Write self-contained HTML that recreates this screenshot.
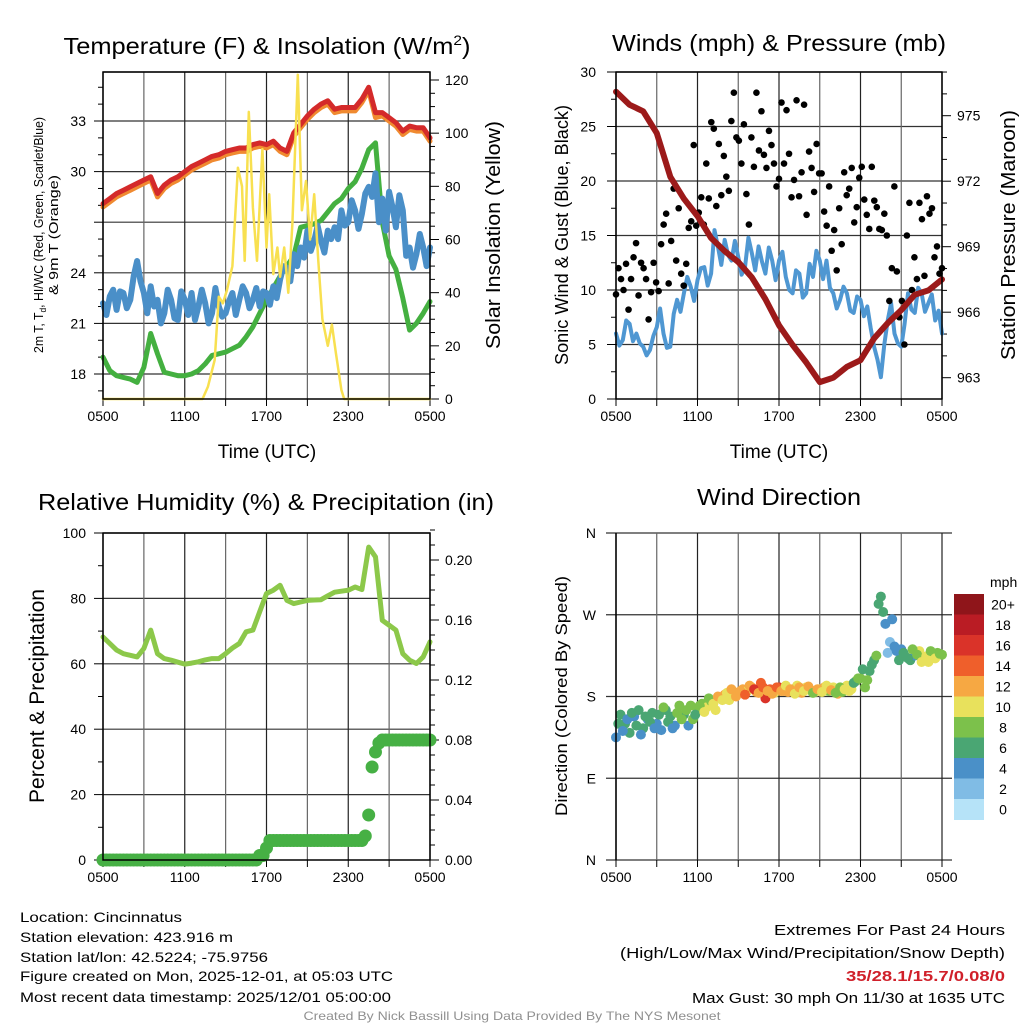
<!DOCTYPE html>
<html><head><meta charset="utf-8"><style>
html,body{margin:0;padding:0;background:#fff;}
svg{display:block;font-family:"Liberation Sans",Arial,sans-serif;}
</style></head><body>
<svg id="fig" width="1024" height="1024" viewBox="0 0 1024 1024" xmlns="http://www.w3.org/2000/svg">
<rect width="1024" height="1024" fill="#fff"/>
<g id="g1"></g>
<g id="g2"></g>
<g id="g3"></g>
<g id="g4"></g>
<text x="267" y="54" font-size="23" text-anchor="middle" textLength="407" lengthAdjust="spacingAndGlyphs">Temperature (F) &amp; Insolation (W/m<tspan font-size="14" dy="-9">2</tspan><tspan dy="9">)</tspan></text>
<text x="779" y="51" font-size="23" text-anchor="middle" textLength="334" lengthAdjust="spacingAndGlyphs">Winds (mph) &amp; Pressure (mb)</text>
<text x="266" y="510" font-size="23" text-anchor="middle" textLength="456" lengthAdjust="spacingAndGlyphs">Relative Humidity (%) &amp; Precipitation (in)</text>
<text x="779" y="505" font-size="23" text-anchor="middle" textLength="164" lengthAdjust="spacingAndGlyphs">Wind Direction</text>
<text transform="translate(43,235) rotate(-90)" font-size="13" text-anchor="middle" textLength="236" lengthAdjust="spacingAndGlyphs">2m T, T<tspan font-size="9" dy="3">d</tspan><tspan dy="-3">, HI/WC (Red, Green, Scarlet/Blue)</tspan></text>
<text transform="translate(58,235) rotate(-90)" font-size="13" text-anchor="middle" textLength="120" lengthAdjust="spacingAndGlyphs">&amp; 9m T (Orange)</text>
<text transform="translate(500,235) rotate(-90)" font-size="20" text-anchor="middle" textLength="228" lengthAdjust="spacingAndGlyphs">Solar Insolation (Yellow)</text>
<text transform="translate(568,235) rotate(-90)" font-size="18" text-anchor="middle" textLength="260" lengthAdjust="spacingAndGlyphs">Sonic Wind &amp; Gust (Blue, Black)</text>
<text transform="translate(1015,235) rotate(-90)" font-size="20" text-anchor="middle" textLength="250" lengthAdjust="spacingAndGlyphs">Station Pressure (Maroon)</text>
<text transform="translate(44,696) rotate(-90)" font-size="21" text-anchor="middle" textLength="214" lengthAdjust="spacingAndGlyphs">Percent &amp; Precipitation</text>
<text transform="translate(567,696) rotate(-90)" font-size="17" text-anchor="middle" textLength="240" lengthAdjust="spacingAndGlyphs">Direction (Colored By Speed)</text>
<text x="267" y="458" font-size="19" text-anchor="middle">Time (UTC)</text>
<text x="779" y="458" font-size="19" text-anchor="middle">Time (UTC)</text>
<g font-size="14">
<text x="20" y="922" textLength="162" lengthAdjust="spacingAndGlyphs">Location: Cincinnatus</text>
<text x="20" y="942" textLength="213" lengthAdjust="spacingAndGlyphs">Station elevation: 423.916 m</text>
<text x="20" y="962" textLength="248" lengthAdjust="spacingAndGlyphs">Station lat/lon: 42.5224; -75.9756</text>
<text x="20" y="981" textLength="373" lengthAdjust="spacingAndGlyphs">Figure created on Mon, 2025-12-01, at 05:03 UTC</text>
<text x="20" y="1002" textLength="371" lengthAdjust="spacingAndGlyphs">Most recent data timestamp: 2025/12/01 05:00:00</text>
</g>
<g font-size="15" text-anchor="end">
<text x="1005" y="935" textLength="231" lengthAdjust="spacingAndGlyphs">Extremes For Past 24 Hours</text>
<text x="1005" y="958" textLength="385" lengthAdjust="spacingAndGlyphs">(High/Low/Max Wind/Precipitation/Snow Depth)</text>
<text x="1005" y="981" fill="#d0202a" font-weight="bold" textLength="159" lengthAdjust="spacingAndGlyphs">35/28.1/15.7/0.08/0</text>
<text x="1005" y="1003" textLength="313" lengthAdjust="spacingAndGlyphs">Max Gust: 30 mph On 11/30 at 1635 UTC</text>
</g>
<text x="512" y="1020" font-size="12" fill="#909090" text-anchor="middle" textLength="417" lengthAdjust="spacingAndGlyphs">Created By Nick Bassill Using Data Provided By The NYS Mesonet</text>
</svg>
<script>
// ---------- data ----------
const xTickLabels = ["0500","1100","1700","2300","0500"];
const tempRed = [28.1,28.4,28.7,28.9,29.1,29.3,29.5,29.7,28.7,29.2,29.5,29.7,30.0,30.3,30.5,30.7,30.9,31.0,31.2,31.3,31.4,31.4,31.6,31.7,31.6,31.8,31.4,31.2,32.3,32.8,33.3,33.7,34.0,34.2,33.7,33.8,33.8,33.8,34.3,35.0,33.5,33.5,33.2,32.9,32.4,32.7,32.6,32.6,32.0];
const tempOrange = [27.9,28.2,28.5,28.7,28.9,29.1,29.3,29.5,28.5,29.0,29.3,29.5,29.8,30.1,30.3,30.5,30.7,30.8,31.0,31.1,31.2,31.2,31.4,31.5,31.4,31.6,31.2,31.0,32.1,32.6,33.1,33.5,33.8,34.0,33.5,33.6,33.6,33.6,34.1,34.8,33.2,33.3,33.0,32.7,32.2,32.5,32.4,32.4,31.8];
const tempDew = [19.0,18.2,17.9,17.8,17.7,17.5,18.4,20.4,19.2,18.1,18.0,17.9,17.9,18.0,18.2,18.6,19.1,19.2,19.3,19.5,19.7,20.2,20.8,21.6,22.4,23.1,23.8,24.4,25.0,26.7,26.8,26.9,27.1,27.6,28.1,28.4,29.0,29.4,30.2,31.3,31.7,27.0,25.0,24.2,22.5,20.6,21.0,21.6,22.3];
const tempWC = [22.2,21.5,22.6,23.0,21.8,22.9,22.8,21.9,22.4,23.8,24.7,23.5,22.8,21.6,23.2,22.0,22.4,21.0,21.6,23.0,22.4,21.3,21.2,22.9,22.4,21.5,22.8,21.2,22.0,23.0,22.2,21.0,21.6,23.1,22.0,21.4,21.6,22.3,22.8,21.5,22.4,23.2,22.8,21.9,22.4,23.1,22.0,22.9,22.8,22.1,23.2,22.5,23.6,24.4,24.3,23.5,25.1,24.4,25.5,24.9,26.5,25.3,25.9,26.8,25.9,25.2,26.5,26.0,26.7,26.0,27.7,26.8,27.0,28.3,27.7,26.6,27.5,28.7,29.1,28.5,29.9,27.0,28.4,26.5,28.8,27.9,26.7,28.6,27.7,25.0,25.5,24.3,25.1,26.3,25.5,24.4,25.5];
const solarHours = [0,7.3,7.7,8.2,8.5,8.8,9.1,9.5,9.9,10.2,10.4,10.7,11.0,11.3,11.7,12.0,12.2,12.5,12.8,13.0,13.3,13.6,13.9,14.3,14.6,14.9,15.2,15.5,15.8,16.1,16.5,16.8,17.1,17.5,17.7,24];
const solarValues = [0,0,4.6,14.7,38.5,36,41,50,87,80,52,108,72,52,94,57,77,47,57,46,57,40,66,122,71,82,60,77,52,30,20,28,17,3.4,0,0];
const windSpeed = [6.0,4.9,5.4,7.2,6.9,5.3,6.0,5.1,4.8,4.0,4.5,5.8,6.6,8.3,6.0,4.7,4.8,7.8,9.1,8.0,9.7,11.2,10.3,9.0,10.9,12.0,12.1,10.4,11.5,15.5,14.0,12.3,14.6,13.2,12.7,14.5,13.0,11.4,12.1,14.8,13.4,11.8,14.0,12.6,11.5,13.9,12.7,10.9,12.7,13.5,11.2,10.0,9.7,11.8,11.5,9.3,9.7,12.4,11.2,13.6,12.7,11.0,12.7,10.2,9.7,8.3,9.1,10.3,9.7,8.1,7.9,9.4,9.1,7.6,8.5,6.5,4.8,3.6,2.0,5.0,7.2,8.8,6.0,5.1,4.8,6.9,9.7,8.2,7.9,10.2,9.7,8.0,8.8,9.6,7.2,8.1,6.0];
const gustValues = [9.6,12,11,10,12.4,8.2,11,13,14.3,9.5,12.5,12,11,7.3,9.8,12.5,10.7,9.9,14.2,16,17,10.6,14.5,19.3,12.7,17.5,11.5,10.4,12.4,15.7,16.3,23.3,15.9,17.1,18.5,16,21.6,18.4,25.4,24.8,17.7,23.4,18.7,22.3,20.4,19.1,25.5,28.1,24,23.7,21.6,25.2,18.8,16,24,21.3,28.1,22.8,26.4,22.4,21.2,24.6,23.3,21.6,19.5,20.2,27.2,21.6,26.5,22.5,18.5,20.1,27.4,18.6,20.8,27,16.9,22.7,21.2,19,23.4,20.7,20.7,17.2,15.9,19.5,13.6,15.5,11.8,17.5,14.2,20.8,18.7,19.3,21.2,16.2,17.6,20.3,21.3,18.3,16.9,15.6,21.3,18.2,17.6,15.6,15.5,17,15,9,12,19.5,11.7,7.5,9,5,15,18,10,13,11,18,16.5,11.3,18.6,17,17.5,13,14,11.5,12];
const pressure = [976.1,975.5,975.2,974.2,972.2,971.2,970.4,969.4,968.8,968.3,967.6,966.6,965.4,964.5,963.7,962.8,963.0,963.5,963.8,964.8,965.5,966.1,966.8,967.0,967.5];
const humidity = [68.2,66.2,64.2,63.1,62.6,62.1,64.7,70.3,63.1,61.6,61.1,60.5,59.9,60.2,60.6,61.2,61.6,61.6,63.1,64.8,66.2,69.8,70.3,75.9,81.5,82.5,84.0,79.4,78.4,78.9,79.4,79.5,79.6,80.8,81.9,82.2,82.5,83.5,82.7,95.7,92.7,73.3,71.8,70.3,63.1,61.1,60.1,62.1,66.7];
const precip = [0,0,0,0,0,0,0,0,0,0,0,0,0,0,0,0,0,0,0,0,0,0,0,0,0,0,0,0,0,0,0,0,0,0,0,0,0,0,0,0,0,0,0,0,0,0,0.003,0.003,0.008,0.013,0.013,0.013,0.013,0.013,0.013,0.013,0.013,0.013,0.013,0.013,0.013,0.013,0.013,0.013,0.013,0.013,0.013,0.013,0.013,0.013,0.013,0.013,0.013,0.013,0.013,0.013,0.013,0.016,0.03,0.062,0.072,0.078,0.08,0.08,0.08,0.08,0.08,0.08,0.08,0.08,0.08,0.08,0.08,0.08,0.08,0.08,0.08];
const windDir = [135,160,150,140,158,165,145,155,162,150,143,165,158,148,170,160,148,155,165,172,168,175,165,178,182,176,185,183,188,186,190,185,195,178,188,184,190,186,185,188,192,184,190,187,185,188,190,186,190,183,185,192,188,197,200,190,208,220,282,273,228,265,230,232,224,220,225,230,222,218,225,228,226];
const windDirSpeed = [5,6,7,6,5,7,6,4,6,5,4,7,6,5,8,7,4,9,8,9,10,9,11,10,12,11,12,13,12,11,13,12,15,17,14,11,16,12,13,14,11,12,10,13,11,10,12,9,11,13,8,10,11,8,8,9,6,7,6,7,3,5,4,5,8,7,5,10,9,11,10,8,9];
const windDirB = [150,142,155,162,148,138,158,152,145,160,168,152,145,162,155,165,170,160,170,163,178,172,180,176,184,188,180,186,182,192,188,184,190,186,183,190,186,192,188,183,190,186,191,184,188,185,192,187,184,190,188,186,195,200,210,198,215,225,290,260,240,235,220,228,222,232,226,218,224,230,222,227];
const windDirSpeedB = [6,5,4,7,6,5,7,6,4,7,8,6,5,8,9,8,9,7,9,10,8,11,12,10,11,13,12,12,14,13,16,12,15,13,12,14,13,11,12,10,13,11,12,9,12,11,10,12,9,8,11,10,7,9,7,8,6,9,7,5,2,4,6,7,6,8,9,10,11,8,10,9];
const speedBinLabels = ["0","2","4","6","8","10","12","14","16","18","20+"];
const speedBinColors = ["#b6e3f8","#80bce5","#4a90c8","#4aa673","#7cc14b","#e8e15c","#f6a843","#ef5f2b","#da3329","#ba1c24","#8f151a"];

// ---------- helpers ----------
const NS="http://www.w3.org/2000/svg";
function mk(parent,tag,attrs){const e=document.createElementNS(NS,tag);for(const k in attrs)e.setAttribute(k,attrs[k]);parent.appendChild(e);return e;}
function lin(d0,d1,r0,r1){return v=>r0+(v-d0)*(r1-r0)/(d1-d0);}
function idxHours(arr){return arr.map((_,i)=>i*24/(arr.length-1));}

function frame(g,L,R,T,B,xs){
  for(let h=0;h<=24;h+=3){
    const x=xs(h);
    const gl=mk(g,'line',{x1:x,x2:x,y1:T,y2:B,stroke:(h%6===0)?'#222':'#666','stroke-width':1.2});
    
    
    const tk=mk(g,'line',{x1:x,x2:x,y1:B,y2:B+7,stroke:'#000','stroke-width':1});
    
    
  }
  xTickLabels.forEach((lab,i)=>{
    const t=mk(g,'text',{x:xs(i*6),y:B+22,'font-size':14,'text-anchor':'middle'});
    t.textContent=lab;
    
    
  });
}
function hgrid(g,L,R,y,color){
  const l=mk(g,'line',{x1:L,x2:R,y1:y,y2:y,stroke:color||'#333','stroke-width':1.2});
  
  
}
function yTick(g,x,y,dir,len){
  const l=mk(g,'line',{x1:x,x2:x+dir*len,y1:y,y2:y,stroke:'#000','stroke-width':1});
  
  
}
function yLabel(g,x,y,txt,anchor){
  const t=mk(g,'text',{x:x,y:y+5,'font-size':14,'text-anchor':anchor});
  t.textContent=txt;
  
  
}
function poly(g,xs,ys,hours,vals,color,w,name){
  const pts=vals.map((v,i)=>xs(hours[i]).toFixed(1)+','+ys(v).toFixed(1)).join(' ');
  const p=mk(g,'polyline',{points:pts,fill:'none',stroke:color,'stroke-width':w,'stroke-linejoin':'round','stroke-linecap':'round'});
  
  
  return p;
}
function border(g,L,R,T,B){
  const r=mk(g,'rect',{x:L,y:T,width:R-L,height:B-T,fill:'none',stroke:'#000','stroke-width':1.5});
  
  
}

// ---------- panel 1 ----------
(function(){
  const g=document.getElementById('g1');
  const L=103,R=430,T=72,B=399;
  const xs=lin(0,24,L,R), ys=lin(18,33,374,121), ysR=lin(0,120,399,80);
  [18,21,24,27,30,33].forEach(v=>hgrid(g,L,R,ys(v)));
  hgrid(g,L,R,T);
  frame(g,L,R,T,B,xs);
  for(let v=17;v<=35;v++){const y=ys(v);if(y>=T&&y<=B)yTick(g,L,y,-1,v%3===0?9:5);}
  [18,21,24,30,33].forEach(v=>yLabel(g,86,ys(v),String(v),'end'));
  for(let v=0;v<=120;v+=5){yTick(g,R,ysR(v),1,v%20===0?9:5);}
  for(let v=0;v<=120;v+=20)yLabel(g,445,ysR(v),String(v),'start');
  poly(g,xs,ys,idxHours(tempOrange),tempOrange,'#f08a30',5,'nine-meter-temp-line');
  poly(g,xs,ys,idxHours(tempRed),tempRed,'#d42a2a',5,'two-meter-temp-line');
  poly(g,xs,ys,idxHours(tempDew),tempDew,'#44b040',5,'dewpoint-line');
  poly(g,xs,ys,idxHours(tempWC),tempWC,'#4a8fc8',6,'wind-chill-line');
  poly(g,xs,ysR,solarHours,solarValues,'#f8e050',2.5,'solar-insolation-line');
  border(g,L,R,T,B);
})();

// ---------- panel 2 ----------
(function(){
  const g=document.getElementById('g2');
  const L=616,R=942,T=72,B=399;
  const xs=lin(0,24,L,R), ys=lin(0,30,399,72), ysR=lin(963,975,377.7,115.7);
  [5,10,15,20,25,30].forEach(v=>hgrid(g,L,R,ys(v)));
  frame(g,L,R,T,B,xs);
  for(let v=0;v<=30;v+=2.5)yTick(g,L,ys(v),-1,v%5===0?9:5);
  for(let v=0;v<=30;v+=5)yLabel(g,596,ys(v),String(v),'end');
  for(let v=962;v<=977;v++){const y=ysR(v);if(y>=T&&y<=B)yTick(g,R,y,1,v%3===0?9:5);}
  for(let v=963;v<=975;v+=3)yLabel(g,957,ysR(v),String(v),'start');
  poly(g,xs,ys,idxHours(windSpeed),windSpeed,'#4f97d2',4,'sonic-wind-line');
  const gh=idxHours(gustValues);
  gustValues.forEach((v,i)=>{
    const c=mk(g,'circle',{cx:xs(gh[i]),cy:ys(v),r:3.3,fill:'#000'});
    
    
  });
  poly(g,xs,ysR,idxHours(pressure),pressure,'#9c1a1a',6,'pressure-line');
  border(g,L,R,T,B);
})();

// ---------- panel 3 ----------
(function(){
  const g=document.getElementById('g3');
  const L=103,R=430,T=533,B=860;
  const xs=lin(0,24,L,R), ys=lin(0,100,860,533), ysR=lin(0,0.2,860,560);
  [20,40,60,80,100].forEach(v=>hgrid(g,L,R,ys(v)));
  frame(g,L,R,T,B,xs);
  for(let v=0;v<=100;v+=10)yTick(g,L,ys(v),-1,v%20===0?9:5);
  for(let v=0;v<=100;v+=20)yLabel(g,86,ys(v),String(v),'end');
  for(let v=0;v<=0.22001;v+=0.01)yTick(g,R,ysR(v),1,Math.round(v*100)%4===0?9:5);
  for(let k=0;k<=5;k++)yLabel(g,445,ysR(k*0.04),(k*0.04).toFixed(2),'start');
  poly(g,xs,ys,idxHours(humidity),humidity,'#8cc84a',5,'relative-humidity-line');
  const ph=idxHours(precip);
  precip.forEach((v,i)=>{
    const c=mk(g,'circle',{cx:xs(ph[i]),cy:ysR(v),r:6.5,fill:'#46b044'});
    
    
  });
  border(g,L,R,T,B);
})();

// ---------- panel 4 ----------
(function(){
  const g=document.getElementById('g4');
  const L=616,R=942,T=533,B=860;
  const xs=lin(0,24,L,R), ys=lin(0,360,860,533);
  [0,90,180,270,360].forEach(v=>hgrid(g,L-10,R+10,ys(v)));
  frame(g,L,R,T,B,xs);
  ["N","E","S","W","N"].forEach((lab,i)=>{
    const t=mk(g,'text',{x:596,y:ys(i*90)+5,'font-size':14,'text-anchor':'end'});
    t.textContent=lab;
    
    
  });
  const dh=idxHours(windDir);
  windDir.forEach((v,i)=>{
    const b=Math.min(10,Math.floor(windDirSpeed[i]/2));
    const c=mk(g,'circle',{cx:xs(dh[i]),cy:ys(v),r:5,fill:speedBinColors[b]});
    
    
  });
  windDirB.forEach((v,i)=>{
    const b=Math.min(10,Math.floor(windDirSpeedB[i]/2));
    const c=mk(g,'circle',{cx:xs((i+0.5)*24/windDirB.length),cy:ys(v),r:5,fill:speedBinColors[b]});
    
    
  });
  const lx=954,top=594,bh=20.5;
  const u=mk(g,'text',{x:990,y:587,'font-size':14});
  u.textContent='mph';
  
  
  for(let i=10;i>=0;i--){
    const y=top+(10-i)*bh;
    const r=mk(g,'rect',{x:lx,y:y,width:30,height:bh+0.5,fill:speedBinColors[i]});
    
    
    const t=mk(g,'text',{x:1003,y:y+bh/2+5,'font-size':14,'text-anchor':'middle'});
    t.textContent=speedBinLabels[i];
    
    
  }
  const bl=mk(g,'line',{x1:L,x2:L,y1:T,y2:B,stroke:'#000','stroke-width':1.5});
  
  
})();
</script>
</body></html>
